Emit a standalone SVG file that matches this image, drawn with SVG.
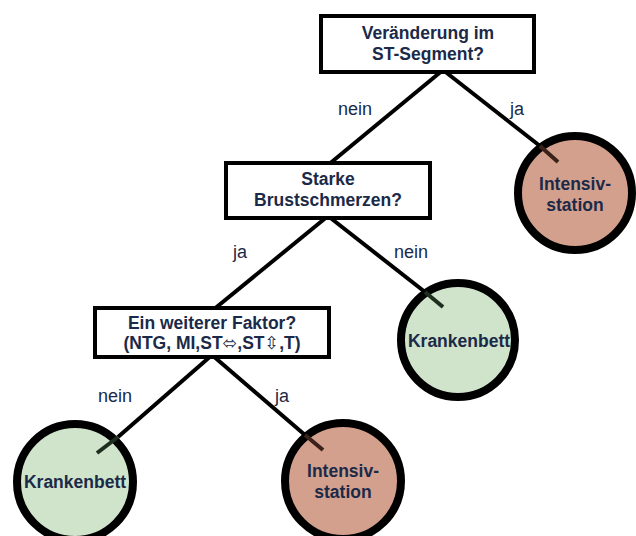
<svg xmlns="http://www.w3.org/2000/svg" width="636" height="536" viewBox="0 0 636 536">
<style>
.box{fill:#fff;stroke:#000;stroke-width:4}
.t{font-family:"Liberation Sans",Arial,sans-serif;font-weight:bold;font-size:17.5px;fill:#1b2a48;text-anchor:middle}
.lab{font-family:"Liberation Sans",Arial,sans-serif;font-size:18px;fill:#1b2a48;text-anchor:middle}
.ln{stroke:#000;stroke-width:4;fill:none}
.in{stroke:#1e2e1e;stroke-width:4;fill:none}
.inr{stroke:#3a2218;stroke-width:4;fill:none}
.g{fill:#cfe4cb;stroke:#000;stroke-width:8}
.r{fill:#d4a08e;stroke:#000;stroke-width:8}
.sym{font-family:"DejaVu Sans",sans-serif;font-weight:normal}
</style>
<g id="connectors">
<line class="ln" x1="443" y1="70" x2="328" y2="165"/>
<line class="ln" x1="443" y1="70" x2="540" y2="146"/>
<line class="ln" x1="328" y1="216" x2="213" y2="310"/>
<line class="ln" x1="328" y1="216" x2="425" y2="292"/>
<line class="ln" x1="212" y1="355" x2="118" y2="437"/>
<line class="ln" x1="212" y1="355" x2="305" y2="435"/>
</g>
<g id="q1"><rect class="box" x="321" y="16" width="213" height="56"/>
<text class="t" x="428" y="39">Veränderung im</text><text class="t" x="428" y="60">ST-Segment?</text></g>
<g id="q2"><rect class="box" x="226" y="163" width="204" height="55"/>
<text class="t" x="328" y="185">Starke</text><text class="t" x="328" y="206">Brustschmerzen?</text></g>
<g id="q3"><rect class="box" x="95" y="308" width="234" height="49"/>
<text class="t" x="212" y="329">Ein weiterer Faktor?</text><text class="t" x="212" y="349">(NTG, MI,ST<tspan class="sym">⬄</tspan>,ST<tspan class="sym">⇳</tspan>,T)</text></g>
<g id="n1"><circle class="r" cx="575" cy="193" r="57"/>
<line class="inr" x1="540" y1="146" x2="558" y2="162"/>
<text class="t" x="575" y="190">Intensiv-</text><text class="t" x="575" y="211">station</text></g>
<g id="n2"><circle class="g" cx="458" cy="340" r="57"/>
<line class="in" x1="425" y1="292" x2="443" y2="307"/>
<text class="t" x="459" y="347">Krankenbett</text></g>
<g id="n3"><circle class="g" cx="75" cy="482" r="58"/>
<line class="in" x1="118" y1="437" x2="97" y2="453"/>
<text class="t" x="75" y="488">Krankenbett</text></g>
<g id="n4"><circle class="r" cx="343" cy="481" r="58"/>
<line class="inr" x1="305" y1="435" x2="323" y2="450"/>
<text class="t" x="343" y="477">Intensiv-</text><text class="t" x="343" y="498">station</text></g>
<g id="labels">
<text class="lab" x="355" y="115">nein</text>
<text class="lab" x="517" y="115">ja</text>
<text class="lab" x="240" y="258">ja</text>
<text class="lab" x="411" y="258">nein</text>
<text class="lab" x="115" y="402">nein</text>
<text class="lab" x="282" y="402">ja</text>
</g>
</svg>
